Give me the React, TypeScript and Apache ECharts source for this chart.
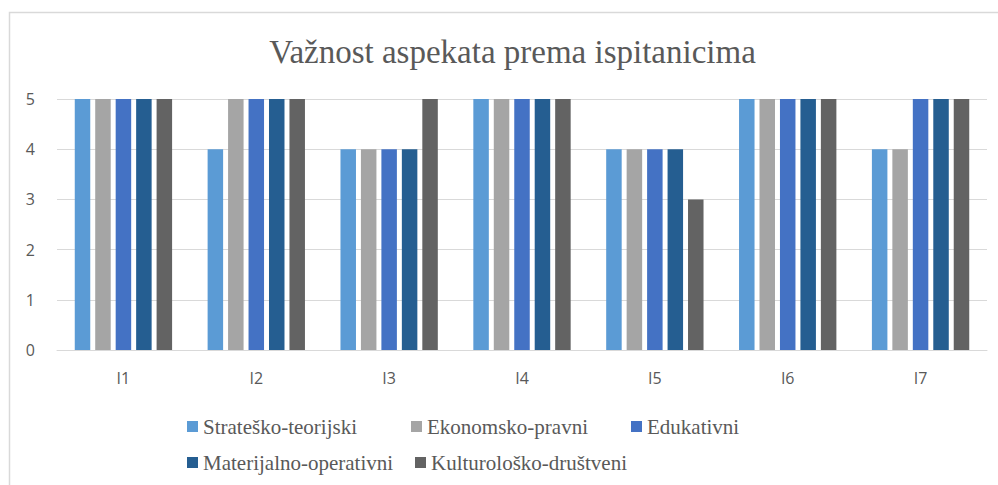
import React, { useEffect, useRef } from "react";
import * as echarts from "echarts";

const categories = ["I1", "I2", "I3", "I4", "I5", "I6", "I7"];
const seriesNames = [
  "Strateško-teorijski",
  "Ekonomsko-pravni",
  "Edukativni",
  "Materijalno-operativni",
  "Kulturološko-društveni",
];
const strateskoTeorijski = [5, 4, 4, 5, 4, 5, 4];
const ekonomskoPravni = [5, 5, 4, 5, 4, 5, 4];
const edukativni = [5, 5, 4, 5, 4, 5, 5];
const materijalnoOperativni = [5, 5, 4, 5, 4, 5, 5];
const kulturoloskoDrustveni = [5, 5, 5, 5, 3, 5, 5];
const seriesValues = [
  strateskoTeorijski,
  ekonomskoPravni,
  edukativni,
  materijalnoOperativni,
  kulturoloskoDrustveni,
];
const titleText = "Važnost aspekata prema ispitanicima";
const colors = ["#5B9BD5", "#A5A5A5", "#4472C4", "#255E91", "#636363"];
const SERIF = "Liberation Serif";

export default function App() {
  const ref = useRef<HTMLDivElement>(null);
  useEffect(() => {
    if (!ref.current) return;
    const chart = echarts.init(ref.current, undefined, { renderer: "svg" });
    const legendPos = [
      { left: 187, top: 416 },
      { left: 411, top: 416 },
      { left: 631, top: 416 },
      { left: 187, top: 452 },
      { left: 415, top: 452 },
    ];
    chart.setOption({
      animation: false,
      backgroundColor: "#ffffff",
      color: colors,
      textStyle: { fontFamily: SERIF },
      legend: seriesNames.map((name, i) => ({
        data: [name],
        left: legendPos[i].left,
        top: legendPos[i].top,
        icon: "rect",
        itemWidth: 11,
        itemHeight: 11,
        padding: 0,
        selectedMode: false,
        textStyle: {
          fontFamily: SERIF,
          fontSize: 21,
          color: "#595959",
        },
      })),
      grid: { left: 57, right: 11, top: 99, bottom: 135 },
      xAxis: {
        type: "category",
        data: categories,
        axisLine: { lineStyle: { color: "#D9D9D9" } },
        axisTick: { show: false },
        axisLabel: {
          margin: 20,
          fontFamily: "Open Sans",
          fontSize: 16,
          color: "#595959",
        },
      },
      yAxis: {
        type: "value",
        min: 0,
        max: 5,
        interval: 1,
        axisLine: { show: false },
        axisTick: { show: false },
        splitLine: { lineStyle: { color: "#D9D9D9" } },
        axisLabel: {
          margin: 22,
          fontFamily: "Open Sans",
          fontSize: 16,
          color: "#595959",
        },
      },
      series: seriesNames.map((name, i) => ({
        name,
        type: "bar",
        data: seriesValues[i],
        barWidth: 15.5,
        barGap: "32%",
        itemStyle: { color: colors[i] },
      })),
      graphic: [
        {
          type: "rect",
          shape: { x: 9.5, y: 12.5, width: 1200, height: 800 },
          style: { fill: "none", stroke: "#D9D9D9", lineWidth: 1.5 },
          silent: true,
        },
        {
          type: "text",
          x: 512.5,
          y: 52,
          silent: true,
          style: {
            text: titleText,
            fontFamily: SERIF,
            fontSize: 33,
            fill: "#595959",
            textAlign: "center",
            textVerticalAlign: "middle",
          },
        },
      ],
    });
    return () => chart.dispose();
  }, []);
  return (
    <div
      ref={ref}
      style={{ position: "fixed", left: 0, top: 0, width: 998, height: 485 }}
    />
  );
}
